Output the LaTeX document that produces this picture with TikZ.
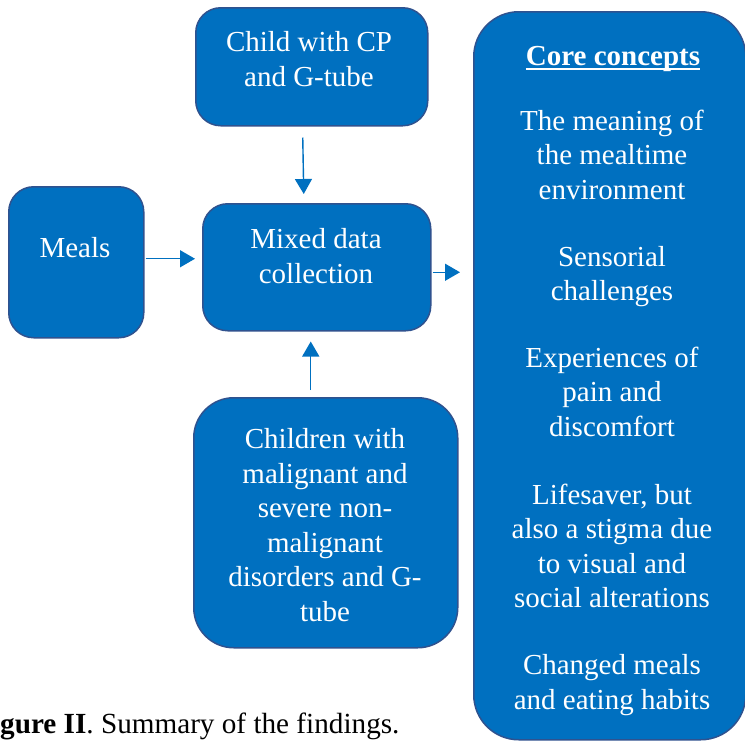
\documentclass[tikz,border=0pt]{standalone}
\usepackage{fontspec}
\setmainfont{Liberation Serif}
\usetikzlibrary{arrows.meta,calc}
\definecolor{boxblue}{HTML}{0070C0}
\definecolor{boxline}{HTML}{2F528F}
\definecolor{arrblue}{HTML}{0070C0}
\newcommand\coreul[1]{\leavevmode\setbox0\hbox{#1}\rlap{\rule[-4.5pt]{\wd0}{1.8pt}}\box0}
\begin{document}
\begin{tikzpicture}[x=1pt,y=-1pt,
  box/.style={draw=boxline, fill=boxblue, line width=1.5pt, inner sep=0pt, anchor=north west},
  txt/.style={text=white, font=\fontsize{29}{34.5}\selectfont, align=center, inner sep=0pt, anchor=base},
  arr/.style={draw=arrblue, line width=1.4pt, -{Triangle[width=17pt,length=15pt]}},
  captxt/.style={text=black, font=\fontsize{29.2}{34.5}\selectfont, inner sep=0pt, anchor=base west}]
\useasboundingbox (0,0) rectangle (745,740);
% boxes
\node[box, rounded corners=25pt, minimum width=232pt, minimum height=118pt] (child) at (195,7) {};
\node[box, rounded corners=25pt, minimum width=135pt, minimum height=151pt] (meals) at (8,186) {};
\node[box, rounded corners=25pt, minimum width=228pt, minimum height=127pt] (mixed) at (202,203) {};
\node[box, rounded corners=40pt, minimum width=264pt, minimum height=250pt] (children) at (193,397) {};
\node[box, rounded corners=45pt, minimum width=272pt, minimum height=728pt] (core) at (473,11) {};
% texts (anchor base = baseline of the last line)
\node[txt] (tchild) at (309,86) {Child with CP\\and G-tube};
\node[txt] (tmeals) at (75,257) {Meals};
\node[txt] (tmixed) at (316,283.3) {Mixed data\\collection};
\node[txt] (tchildren) at (325,621) {Children with\\malignant and\\severe non-\\malignant\\disorders and G-\\tube};
\node[txt] (tcore) at (613,65) {\bfseries\coreul{Core concepts}};
\node[txt] (tc1) at (612,199) {The meaning of\\the mealtime\\environment};
\node[txt] (tc2) at (612,300.5) {Sensorial\\challenges};
\node[txt] (tc3) at (612,436) {Experiences of\\pain and\\discomfort};
\node[txt] (tc4) at (612,607.5) {Lifesaver, but\\also a stigma due\\to visual and\\social alterations};
\node[txt] (tc5) at (612,709) {Changed meals\\and eating habits};
% caption
\node[captxt] (caption) at (0,733) {\textbf{gure II}. Summary of the findings.};
% arrows
\draw[arr] ($(child.south)+(-9,11)$) -- ($(mixed.north)+(-13,-9)$);
\draw[arr] ($(meals.east)+(1,-3.5)$) -- ($(mixed.west)+(-7,-8.5)$);
\draw[arr] ($(mixed.east)+(1,5)$) -- ($(mixed.east -| core.west)+(-13,5)$);
\draw[arr] ($(children.north)+(-15,-7)$) -- ($(mixed.south)+(-6,10)$);
\end{tikzpicture}
\end{document}
